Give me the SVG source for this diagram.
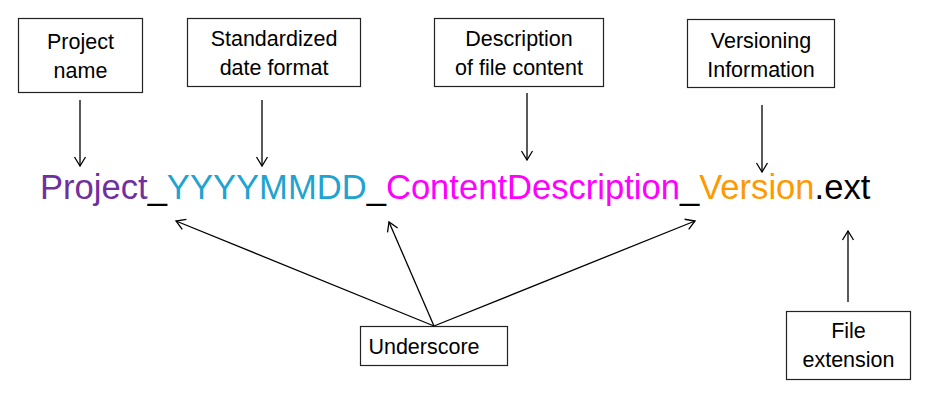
<svg xmlns="http://www.w3.org/2000/svg" width="930" height="409" viewBox="0 0 930 409">
<defs>
<style>
.box{fill:#fff;stroke:#222;stroke-width:1.2}
.lbl{font-family:"Liberation Sans",Arial,sans-serif;font-size:21.5px;fill:#000;text-anchor:middle}
.con{stroke:#000;stroke-width:1.3;fill:none;marker-end:url(#ah)}
.main{font-family:"Liberation Sans",Arial,sans-serif;font-size:34.6px}
</style>
<marker id="ah" markerUnits="userSpaceOnUse" markerWidth="14" markerHeight="14" refX="11" refY="7" orient="auto">
<path d="M2,1.5 L11,7 L2,12.5" fill="none" stroke="#000" stroke-width="1.3"/>
</marker>
</defs>
<rect width="930" height="409" fill="#fff"/>
<g id="filename">
<text class="main" x="40" y="199"><tspan fill="#7030A0">Project</tspan><tspan fill="#000">_</tspan><tspan fill="#1FA3D0">YYYYMMDD</tspan><tspan fill="#000">_</tspan><tspan fill="#FF00FF">ContentDescription</tspan><tspan fill="#000">_</tspan><tspan fill="#FF9900">Version</tspan><tspan fill="#000">.ext</tspan></text>
</g>
<g id="node-project-name">
<rect class="box" x="18.5" y="18.5" width="124" height="74"/>
<text class="lbl" x="80.5" y="49">Project</text>
<text class="lbl" x="80.5" y="78">name</text>
</g>
<g id="node-date-format">
<rect class="box" x="187.5" y="18.5" width="173" height="68"/>
<text class="lbl" x="274" y="46">Standardized</text>
<text class="lbl" x="274" y="75">date format</text>
</g>
<g id="node-description">
<rect class="box" x="434.5" y="18.5" width="169" height="68"/>
<text class="lbl" x="519" y="46">Description</text>
<text class="lbl" x="519" y="75">of file content</text>
</g>
<g id="node-versioning">
<rect class="box" x="687.5" y="19.5" width="147" height="68"/>
<text class="lbl" x="761" y="48">Versioning</text>
<text class="lbl" x="761" y="77">Information</text>
</g>
<g id="node-underscore">
<rect class="box" x="360.5" y="326.5" width="147" height="39"/>
<text class="lbl" x="424" y="354">Underscore</text>
</g>
<g id="node-file-extension">
<rect class="box" x="786.5" y="311.5" width="124" height="68"/>
<text class="lbl" x="848.5" y="338">File</text>
<text class="lbl" x="848.5" y="367">extension</text>
</g>
<g id="connectors">
<line class="con" x1="80" y1="100" x2="80" y2="166"/>
<line class="con" x1="262" y1="100" x2="262" y2="166"/>
<line class="con" x1="527" y1="93" x2="527" y2="160"/>
<line class="con" x1="762" y1="105" x2="762" y2="172"/>
<line class="con" x1="848" y1="302" x2="848" y2="231"/>
<line class="con" x1="434" y1="326" x2="176" y2="221"/>
<line class="con" x1="434" y1="326" x2="389" y2="222"/>
<line class="con" x1="434" y1="326" x2="695" y2="221"/>
</g>
</svg>
